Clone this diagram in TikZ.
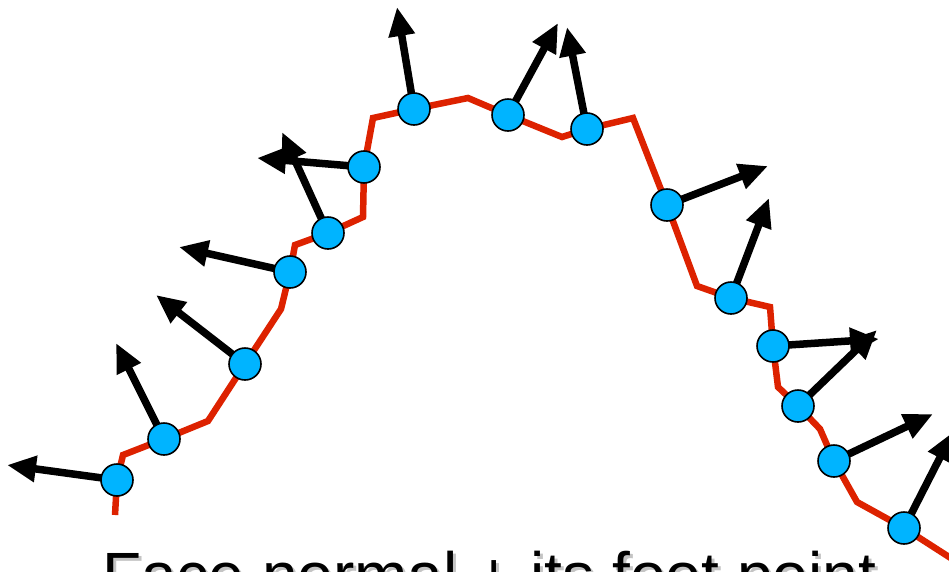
\documentclass[tikz,border=0pt]{standalone}
\usepackage{fontspec}
\setmainfont{Liberation Sans}
\usetikzlibrary{arrows.meta}
\definecolor{curvered}{HTML}{DD2200}
\definecolor{footblue}{HTML}{00B4FF}
\definecolor{shadowgray}{HTML}{C4C4C4}
\tikzset{
  redline/.style={draw=curvered, line width=6.5pt},
  normalarrow/.style={draw=black, line width=7.5pt, -{Triangle[length=29pt,width=25pt]}},
  foot/.style={circle, draw=black, line width=1.6pt, fill=footblue, minimum size=32pt, inner sep=0pt},
  caption/.style={font=\fontsize{64}{70}\selectfont, inner sep=0pt, anchor=base west}
}
\begin{document}
\begin{tikzpicture}[x=1pt,y=-1pt]
\useasboundingbox (0,0) rectangle (949,571);
% foot points
\foreach \i/\x/\y in {1/117/480,2/164/439,3/245/364,4/290/272,5/328/233,6/364/167,7/414/109,8/508/115,9/587/129,10/667/205,11/731/298,12/773/346,13/798/406,14/834/461,15/904/528}
  \coordinate (q\i) at (\x,\y);
% corners
\coordinate (s) at (115,515);
\coordinate (c1) at (123,455);
\coordinate (c2) at (208,421);
\coordinate (c3) at (281,309);
\coordinate (c4) at (295,245);
\coordinate (c5) at (363,217);
\coordinate (c6) at (373,118);
\coordinate (c7) at (468,98);
\coordinate (c8) at (562,137);
\coordinate (c9) at (633,118);
\coordinate (c10) at (697,286);
\coordinate (c11) at (770,307);
\coordinate (c12) at (778,387);
\coordinate (c13) at (820,429);
\coordinate (c14) at (857,502);
\coordinate (e) at (960,564);
% normal tips
\foreach \i/\x/\y in {1/7/465,2/116/343,3/156/295,4/179/247,5/282/132,6/257/158,7/397/7,8/558/23,9/567/27,10/768/166,11/769/198,12/879/339,13/877/330,14/933/414,15/953/432}
  \coordinate (n\i) at (\x,\y);
% curve
\draw[redline] (s) -- (q1) -- (c1) -- (q2) -- (c2) -- (q3) -- (c3) -- (q4) -- (c4) -- (q5) -- (c5) -- (q6) -- (c6) -- (q7) -- (c7) -- (q8) -- (c8) -- (q9) -- (c9) -- (q10) -- (c10) -- (q11) -- (c11) -- (q12) -- (c12) -- (q13) -- (c13) -- (q14) -- (c14) -- (q15) -- (e);
% normals
\foreach \i in {1,...,15}
  \draw[normalarrow] (q\i) -- (n\i);
% foot point markers
\foreach \i in {1,...,15}
  \node[foot] (p\i) at (q\i) {};
% caption
\node[caption, text=shadowgray] (capshadow) at (105,600) {Face normal + its foot point};
\node[caption, text=black] (cap) at (102,597) {Face normal + its foot point};
\end{tikzpicture}
\end{document}
